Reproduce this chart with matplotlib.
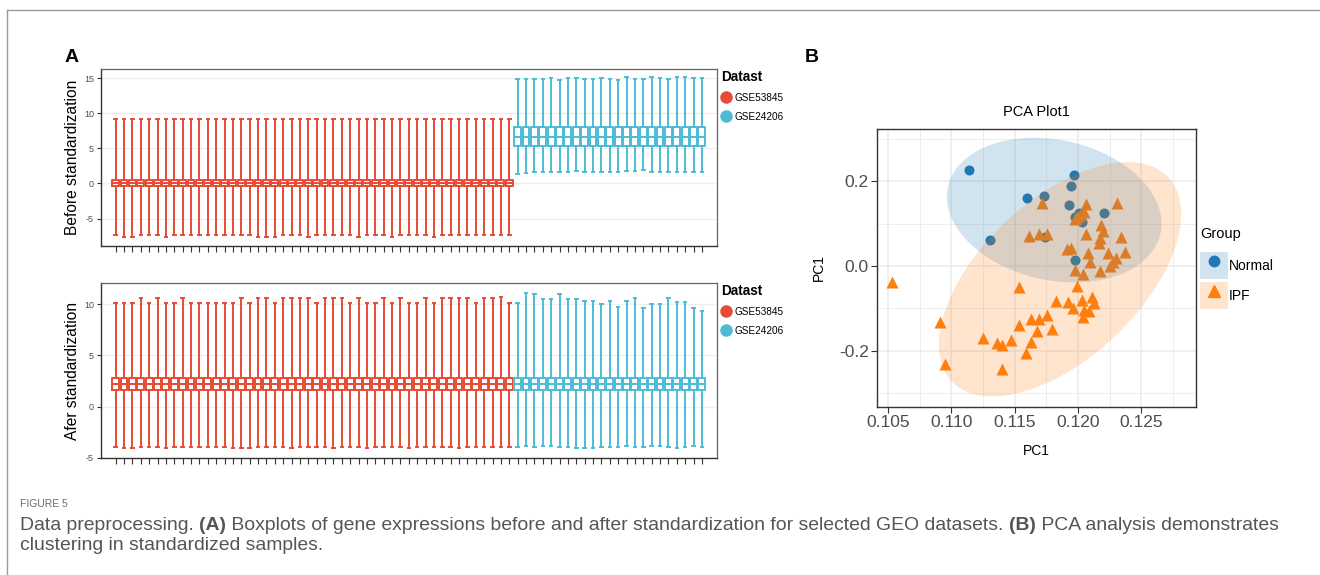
import numpy as np
import matplotlib
matplotlib.use("Agg")
import matplotlib.pyplot as plt
from matplotlib.lines import Line2D
from matplotlib.patches import Patch
from matplotlib.legend_handler import HandlerTuple

plt.rcParams['font.family'] = ['Liberation Sans', 'DejaVu Sans']

# ---------------- data: panel A (boxplot summaries per sample) ----------------
datasets = ["GSE53845", "GSE24206"]
n_samples = [48, 23]

# box (q1, median, q3), same for every sample of a dataset
before_box_red = [-0.34, 0.07, 0.47]
before_box_blue = [5.37, 6.66, 8.0]
after_box_red = [1.58, 2.16, 2.75]
after_box_blue = [1.58, 2.16, 2.75]

before_hi_red = [9.2] * 48
before_lo_red = [-7.3, -7.6, -7.6, -7.3, -7.3, -7.3, -7.6, -7.3, -7.3, -7.3, -7.3, -7.3,
                 -7.3, -7.3, -7.3, -7.3, -7.3, -7.6, -7.6, -7.6, -7.3, -7.3, -7.3, -7.6,
                 -7.3, -7.3, -7.3, -7.3, -7.3, -7.6, -7.3, -7.3, -7.3, -7.6, -7.3, -7.3,
                 -7.3, -7.3, -7.6, -7.3, -7.3, -7.3, -7.3, -7.3, -7.3, -7.3, -7.3, -7.3]
before_hi_blue = [14.86, 14.86, 14.86, 14.86, 15.0, 14.76, 15.0, 15.0, 14.86, 14.86, 15.0, 14.86,
                  14.76, 15.09, 14.86, 14.86, 15.09, 15.0, 14.86, 15.09, 15.09, 15.0, 15.0]
before_lo_blue = [1.33, 1.43, 1.57, 1.57, 1.66, 1.57, 1.66, 1.81, 1.57, 1.57, 1.57, 1.57,
                  1.57, 1.81, 1.81, 1.9, 1.57, 1.57, 1.57, 1.66, 1.66, 1.66, 1.57]

after_hi_red = [10.15, 10.15, 10.15, 10.58, 10.15, 10.58, 10.15, 10.15, 10.58, 10.15, 10.15, 10.15,
                10.15, 10.15, 10.15, 10.58, 10.15, 10.58, 10.58, 10.15, 10.58, 10.58, 10.58, 10.58,
                10.15, 10.58, 10.58, 10.58, 10.15, 10.58, 10.15, 10.15, 10.58, 10.15, 10.58, 10.15,
                10.15, 10.58, 10.15, 10.58, 10.58, 10.58, 10.58, 10.15, 10.58, 10.58, 10.67, 10.15]
after_lo_red = [-3.92, -4.08, -4.08, -3.92, -3.92, -3.92, -4.08, -3.92, -3.92, -3.92, -3.92, -3.92,
                -3.92, -3.92, -4.08, -4.08, -4.08, -3.92, -3.92, -3.92, -3.92, -4.08, -3.92, -3.92,
                -3.92, -3.92, -4.08, -3.92, -3.92, -3.92, -4.08, -3.92, -3.92, -3.92, -3.92, -4.08,
                -3.92, -3.92, -3.92, -3.92, -3.92, -4.08, -3.92, -3.92, -3.92, -3.92, -3.92, -3.92]
after_hi_blue = [10.16, 11.13, 10.97, 10.51, 10.51, 11.03, 10.51, 10.51, 10.35, 10.35, 10.03, 10.35,
                 9.77, 10.35, 10.64, 9.61, 10.03, 10.03, 10.58, 10.19, 10.25, 9.67, 9.35]
after_lo_blue = [-3.92, -3.88, -3.98, -3.82, -3.82, -3.92, -3.98, -4.08, -4.08, -4.05, -3.98, -3.98,
                 -3.98, -3.88, -3.92, -3.98, -3.82, -3.88, -3.98, -4.08, -3.92, -3.88, -3.98]

# ---------------- data: panel B (PCA scores) ----------------
normal_x = [0.11141, 0.11307, 0.11597, 0.11734, 0.11966, 0.11945, 0.11931, 0.12008,
            0.11976, 0.12029, 0.12203, 0.11742, 0.11976]
normal_y = [0.2259, 0.0612, 0.159, 0.1647, 0.214, 0.189, 0.144, 0.1255,
            0.1145, 0.104, 0.1255, 0.069, 0.0141]

ipf_x = [0.11713, 0.12061, 0.12305, 0.12047, 0.11989, 0.11976, 0.12016, 0.11616, 0.11692, 0.11758,
         0.12184, 0.12195, 0.12063, 0.12174, 0.12168, 0.12337, 0.11910, 0.11942, 0.12082, 0.12371,
         0.12240, 0.12300, 0.12279, 0.12095, 0.12253, 0.12174, 0.11976, 0.12042,
         0.10528, 0.11537, 0.11989, 0.11824, 0.11918, 0.12108, 0.12034, 0.12126, 0.11963, 0.12050,
         0.12089, 0.12037, 0.10910, 0.11629, 0.11695, 0.11753, 0.11537, 0.11674, 0.11792,
         0.11247, 0.11358, 0.11397, 0.11468, 0.11629, 0.11587, 0.10949, 0.11402]
ipf_y = [0.149, 0.1459, 0.1475, 0.1278, 0.1145, 0.1098, 0.12, 0.0706, 0.0753, 0.0753,
         0.0965, 0.0824, 0.0753, 0.0651, 0.0533, 0.0675, 0.0392, 0.0416, 0.0314, 0.0322,
         0.0298, 0.018, 0.0102, 0.0102, 0.0, -0.011, -0.0094, -0.0196,
         -0.0369, -0.0502, -0.047, -0.0816, -0.0839, -0.0722, -0.08, -0.0878, -0.0996, -0.1035,
         -0.1051, -0.1208, -0.131, -0.1255, -0.1255, -0.1153, -0.1388, -0.1522, -0.149,
         -0.1702, -0.1804, -0.1859, -0.1741, -0.178, -0.2039, -0.2314, -0.2431]

groups = ["Normal", "IPF"]

RED = '#E64B35'
BLUE = '#4DBBD5'
C_NORMAL = '#1F77B4'
C_IPF = '#FF7F0E'
W, H = 1320, 575


def fx(px):
    return px / W


def fy(py):
    return 1 - py / H


fig = plt.figure(figsize=(13.2, 5.75), dpi=100)

# outer frame (top and left edges only)
fig.add_artist(Line2D([fx(7), 1], [fy(10), fy(10)], transform=fig.transFigure, color='#9a9a9a', lw=1))
fig.add_artist(Line2D([fx(7), fx(7)], [fy(10), 0], transform=fig.transFigure, color='#9a9a9a', lw=1))

fig.text(fx(72), fy(57), "A", fontsize=14, fontweight='bold', ha='center', va='center')
fig.text(fx(812), fy(57), "B", fontsize=14, fontweight='bold', ha='center', va='center')


def box_panel(ax, boxes, his, los, ylim, yticks, ylabel):
    pos = 1
    for (q1, med, q3), hi, lo, col in zip(boxes, his, los, [RED, BLUE]):
        stats = []
        for h, l in zip(hi, lo):
            stats.append(dict(q1=q1, med=med, q3=q3, whishi=h, whislo=l, fliers=[]))
        positions = list(range(pos, pos + len(stats)))
        pos += len(stats)
        lp = dict(color=col, lw=1.4)
        ax.bxp(stats, positions=positions, widths=0.82, showfliers=False,
               boxprops=lp, whiskerprops=lp, capprops=lp, medianprops=lp,
               capwidths=0.3, manage_ticks=False)
    ax.set_xlim(-0.75, 72.8)
    ax.set_ylim(*ylim)
    ax.set_xticks(range(1, pos))
    ax.set_xticklabels([])
    ax.set_yticks(yticks)
    ax.set_yticklabels([str(t) for t in yticks])
    ax.tick_params(axis='x', length=4, width=0.8, color='#333333')
    ax.tick_params(axis='y', length=3, width=0.8, color='#333333', labelsize=6.5,
                   labelcolor='#4D4D4D', pad=2)
    ax.grid(axis='y', color='#EEEEEE', lw=0.9)
    ax.set_axisbelow(True)
    for s in ['top', 'right']:
        ax.spines[s].set_color('#666666')
        ax.spines[s].set_linewidth(0.9)
    for s in ['left', 'bottom']:
        ax.spines[s].set_color('#333333')
        ax.spines[s].set_linewidth(1.0)
    ax.set_ylabel(ylabel, fontsize=11.2, labelpad=3)


ax1 = fig.add_axes([fx(101), fy(246), fx(717) - fx(101), fy(69) - fy(246)])
box_panel(ax1, [before_box_red, before_box_blue], [before_hi_red, before_hi_blue],
          [before_lo_red, before_lo_blue], (-8.91, 16.29), [-5, 0, 5, 10, 15],
          "Before standardization")

ax2 = fig.add_axes([fx(101), fy(458.3), fx(717) - fx(101), fy(282.7) - fy(458.3)])
box_panel(ax2, [after_box_red, after_box_blue], [after_hi_red, after_hi_blue],
          [after_lo_red, after_lo_blue], (-5.05, 12.1), [-5, 0, 5, 10],
          "Afer standardization")

for top in [70, 284]:
    hds = [Line2D([], [], ls='', marker='o', ms=8, color=c) for c in [RED, BLUE]]
    fig.legend(handles=hds, labels=datasets, title="Datast", loc='upper left',
               bbox_to_anchor=(fx(721), fy(top)), frameon=False, fontsize=7.2,
               title_fontproperties={'size': 9.8, 'weight': 'bold'},
               handlelength=0.9, handleheight=1.2, handletextpad=0.4,
               labelspacing=0.85, borderpad=0, borderaxespad=0, alignment='left')

# ---------------- panel B ----------------
axb = fig.add_axes([fx(877), fy(407), fx(1196) - fx(877), fy(129) - fy(407)])
axb.scatter(normal_x, normal_y, marker='o', s=52, color=C_NORMAL, lw=0, zorder=2)
axb.scatter(ipf_x, ipf_y, marker='^', s=75, color=C_IPF, lw=0, zorder=2)


def norm_ellipse(xs, ys, level=0.95, segs=101):
    # same construction as ggplot2 stat_ellipse(type = "norm")
    xy = np.column_stack([xs, ys])
    n = len(xy)
    loc = xy.mean(0)
    cov = np.cov(xy.T)
    d2 = n - 1
    qf = d2 / 2 * ((1 - level) ** (-2 / d2) - 1)
    radius = np.sqrt(2 * qf)
    ang = np.linspace(0, 2 * np.pi, segs)
    unit = np.column_stack([np.cos(ang), np.sin(ang)])
    R = np.linalg.cholesky(cov).T
    return loc + radius * unit @ R


for xs, ys, c in [(normal_x, normal_y, C_NORMAL), (ipf_x, ipf_y, C_IPF)]:
    e = norm_ellipse(xs, ys)
    axb.fill(e[:, 0], e[:, 1], color=c, alpha=0.2, lw=0, zorder=3)

axb.set_xlim(0.10412, 0.12932)
axb.set_ylim(-0.3318, 0.3224)
axb.set_xticks([0.105, 0.110, 0.115, 0.120, 0.125])
axb.set_xticklabels(["0.105", "0.110", "0.115", "0.120", "0.125"])
axb.set_xticks([0.1075, 0.1125, 0.1175, 0.1225, 0.1275], minor=True)
axb.set_yticks([-0.2, 0.0, 0.2])
axb.set_yticklabels(["-0.2", "0.0", "0.2"])
axb.set_yticks([-0.3, -0.1, 0.1, 0.3], minor=True)
axb.grid(which='major', color='#EBEBEB', lw=1.1)
axb.grid(which='minor', color='#EBEBEB', lw=0.6)
axb.set_axisbelow(True)
axb.tick_params(which='major', length=4, width=0.8, color='#333333', labelsize=12.5,
                labelcolor='#4D4D4D', pad=2)
axb.tick_params(which='minor', length=0)
for s in axb.spines.values():
    s.set_color('#333333')
    s.set_linewidth(1.0)
axb.set_title("PCA Plot1", fontsize=10.5, pad=9)
axb.set_xlabel("PC1", fontsize=10, labelpad=9.5)
axb.set_ylabel("PC1", fontsize=10, labelpad=9)

fig.text(fx(1200), fy(234), "Group", fontsize=10.5, va='center', ha='left')
hb = [(Patch(fc=c, alpha=0.2, ec='none'), Line2D([], [], ls='', marker=m, ms=ms, color=c))
      for c, m, ms in [(C_NORMAL, 'o', 7.5), (C_IPF, '^', 9)]]
fig.legend(handles=hb, labels=groups, loc='upper left',
           bbox_to_anchor=(fx(1200), fy(252)), frameon=False, fontsize=10,
           handler_map={tuple: HandlerTuple(ndivide=1, pad=0)},
           handlelength=2.0, handleheight=2.6, handletextpad=0.1, labelspacing=0.25,
           borderpad=0, borderaxespad=0)

# ---------------- caption ----------------
fig.text(fx(20), fy(504), "FIGURE 5", fontsize=7.5, color='#6b6b6b', va='center')

cap_lines = [
    [("Data preprocessing. ", 'normal'), ("(A)", 'bold'),
     (" Boxplots of gene expressions before and after standardization for selected GEO datasets. ", 'normal'),
     ("(B)", 'bold'), (" PCA analysis demonstrates", 'normal')],
    [("clustering in standardized samples.", 'normal')],
]
cap_y = [525, 546]
renderer = fig.canvas.get_renderer()


def place_line(pieces, y, size):
    arts = []
    x = fx(20)
    for txt, wt in pieces:
        t = fig.text(x, fy(y), txt, fontsize=size, fontweight=wt, color='#555555', va='center')
        bb = t.get_window_extent(renderer)
        x += bb.width / W
        arts.append(t)
    return arts, (x - fx(20)) * W


arts, width = place_line(cap_lines[0], cap_y[0], 10)
for a in arts:
    a.remove()
size = 10 * 1255 / width
for pieces, y in zip(cap_lines, cap_y):
    place_line(pieces, y, size)

fig.savefig("out.png", dpi=100)
